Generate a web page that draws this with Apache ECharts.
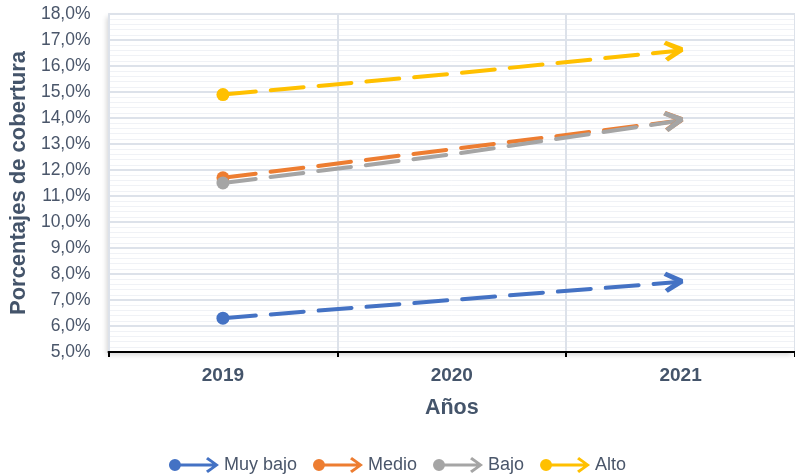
<!DOCTYPE html>
<html>
<head>
<meta charset="utf-8">
<script src="https://cdn.jsdelivr.net/npm/echarts@6/dist/echarts.min.js"></script>
<style>html,body{margin:0;padding:0;background:#fff;}#c{width:795px;height:476px;}</style>
</head>
<body>
<div id="c"></div>
<script>
var categories = ['2019', '2020', '2021'];
var seriesNames = ['Muy bajo', 'Medio', 'Bajo', 'Alto'];
var muyBajo = [6.3, 7.0, 7.7];
var medio = [11.7, 12.8, 13.9];
var bajo = [11.5, 12.6, 13.9];
var alto = [14.9, 15.7, 16.6];
var colors = ['#4472C4', '#ED7D31', '#A5A5A5', '#FFC000'];
var yTicks = { min: 5, max: 18, interval: 1 };

var textColor = '#4a566a';
var nameColor = '#44546a';
var font = '"Liberation Sans", Arial, sans-serif';
var arrowPath = 'path://M3,0 L20,8 L20,12 L3,20 L0,16.5 L12.5,10 L0,3.5 Z';
var legendIcon = 'path://M0,8 A6,6 0 1,1 12,8 A6,6 0 1,1 0,8 Z M6,6.4 L47,6.4 L47,9.6 L6,9.6 Z M37,2.2 L39,0 L50,8 L39,16 L37,13.8 L45.5,8 Z';

var allData = [muyBajo, medio, bajo, alto];

function buildSeries(rots) {
  return allData.map(function (vals, si) {
    return {
      name: seriesNames[si],
      type: 'line',
      color: colors[si],
      lineStyle: { width: 4, type: [33, 15], cap: 'round', color: colors[si] },
      itemStyle: { color: colors[si] },
      showSymbol: true,
      silent: true,
      data: vals.map(function (v, i) {
        if (i === 0) return { value: v, symbol: 'circle', symbolSize: 13 };
        if (i === vals.length - 1) return { value: v, symbol: arrowPath, symbolSize: [19, 21], symbolOffset: [-7, 0], symbolRotate: rots ? rots[si] : 0, symbolKeepAspect: false };
        return { value: v, symbol: 'none', symbolSize: 0 };
      })
    };
  });
}

var chart = echarts.init(document.getElementById('c'), null, { renderer: 'canvas' });
var option = {
  animation: false,
  textStyle: { fontFamily: font },
  grid: {
    left: 108, top: 14, width: 690, bottom: 124, containLabel: false,
    show: true, borderWidth: 0, backgroundColor: '#fff',
    shadowColor: 'rgba(0,0,0,0.16)', shadowBlur: 5, shadowOffsetX: -3, shadowOffsetY: 3
  },
  legend: {
    top: 451,
    left: 'center',
    itemWidth: 50,
    itemHeight: 16,
    itemGap: 16,
    textStyle: { color: textColor, fontSize: 18, fontFamily: font },
    data: seriesNames.map(function (n) { return { name: n, icon: legendIcon }; })
  },
  xAxis: {
    type: 'category',
    data: categories,
    boundaryGap: true,
    name: 'Años',
    nameLocation: 'middle',
    nameGap: 45,
    nameTextStyle: { color: nameColor, fontSize: 21.5, fontWeight: 'bold', fontFamily: font },
    axisLine: { show: true, lineStyle: { color: '#000', width: 2 } },
    axisTick: { show: true, length: 5, lineStyle: { color: '#000', width: 2 } },
    axisLabel: { color: nameColor, fontSize: 19, fontWeight: 'bold', margin: 14, fontFamily: font },
    splitLine: { show: true, lineStyle: { color: '#DDE2EA', width: 2 } }
  },
  yAxis: {
    type: 'value',
    min: yTicks.min,
    max: yTicks.max,
    interval: yTicks.interval,
    name: 'Porcentajes de cobertura',
    nameLocation: 'middle',
    nameGap: 72,
    nameTextStyle: { color: nameColor, fontSize: 22, fontWeight: 'bold', fontFamily: font },
    axisLine: { show: true, lineStyle: { color: '#DDE2EA', width: 2 } },
    axisTick: { show: false },
    axisLabel: {
      color: textColor, fontSize: 17.5, margin: 18, fontFamily: font,
      formatter: function (v) { return v.toFixed(1).replace('.', ',') + '%'; }
    },
    splitLine: { show: true, lineStyle: { color: '#DDE2EA', width: 2 } },
    minorTick: { show: false, splitNumber: 5 },
    minorSplitLine: { show: true, lineStyle: { color: '#F0F2F6', width: 1 } }
  },
  series: buildSeries(null)
};
chart.setOption(option);

var rots = allData.map(function (vals) {
  var n = vals.length;
  var p1 = chart.convertToPixel({ gridIndex: 0 }, [n - 2, vals[n - 2]]);
  var p2 = chart.convertToPixel({ gridIndex: 0 }, [n - 1, vals[n - 1]]);
  return Math.atan2(p1[1] - p2[1], p2[0] - p1[0]) * 180 / Math.PI;
});
chart.setOption({ series: buildSeries(rots) });
</script>
</body>
</html>
